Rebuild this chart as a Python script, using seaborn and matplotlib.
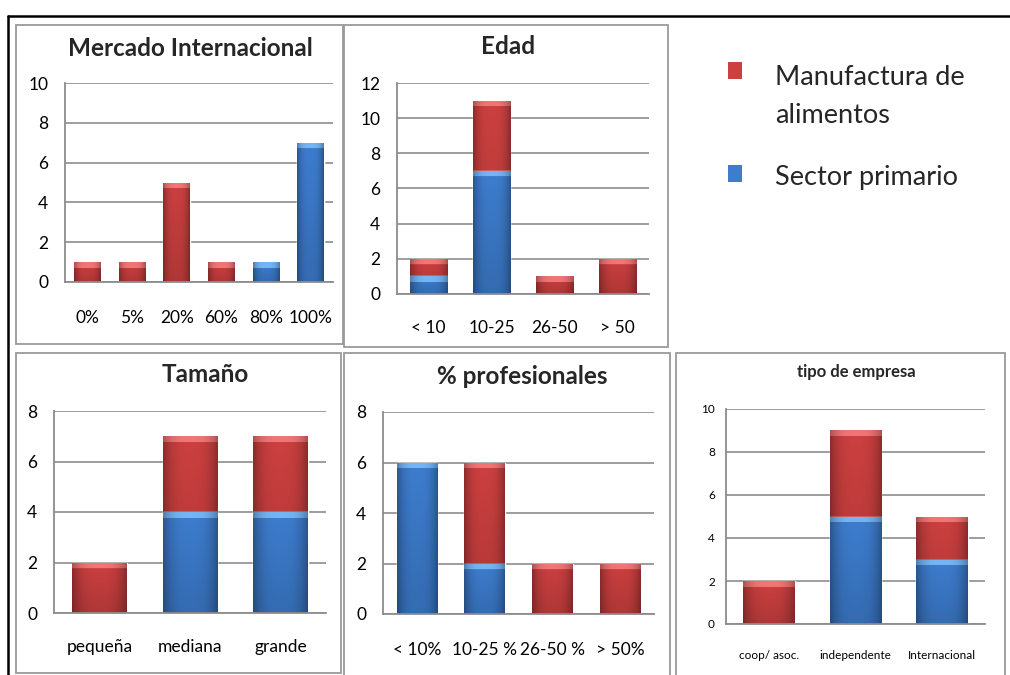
import numpy as np
import pandas as pd
import matplotlib
matplotlib.use("Agg")
import matplotlib.pyplot as plt
import seaborn as sns
from matplotlib.patches import Rectangle
from matplotlib.lines import Line2D
from matplotlib import font_manager

# ---- data -------------------------------------------------------------
mercado_cats = ["0%", "5%", "20%", "60%", "80%", "100%"]
mercado_primario = [0, 0, 0, 0, 1, 7]
mercado_manufactura = [1, 1, 5, 1, 0, 0]

edad_cats = ["< 10", "10-25", "26-50", "> 50"]
edad_primario = [1, 7, 0, 0]
edad_manufactura = [1, 4, 1, 2]

tamano_cats = ["pequeña", "mediana", "grande"]
tamano_primario = [0, 4, 4]
tamano_manufactura = [2, 3, 3]

prof_cats = ["< 10%", "10-25 %", "26-50 %", "> 50%"]
prof_primario = [6, 2, 0, 0]
prof_manufactura = [0, 4, 2, 2]

tipo_cats = ["coop/ asoc.", "independente", "Internacional"]
tipo_primario = [0, 5, 3]
tipo_manufactura = [2, 4, 2]

series_labels = ["Manufactura de\nalimentos", "Sector primario"]

# ---- style ------------------------------------------------------------
W, H = 1010, 675
sns.set_theme(style="white")
plt.rcParams["font.family"] = ["Lato", "DejaVu Sans"]


def has_font(name):
    try:
        font_manager.findfont(name, fallback_to_default=False)
        return True
    except Exception:
        return False


NARROW = ["Liberation Sans Narrow", "Lato"] if has_font("Liberation Sans Narrow") else ["Lato"]

RED = (0.80, 0.25, 0.25)
RED_TOP = (0.95, 0.46, 0.46)
BLUE = (0.24, 0.49, 0.81)
BLUE_TOP = (0.46, 0.71, 0.96)
GRID = "#8c8c8c"

fig = plt.figure(figsize=(W / 100, H / 100), dpi=100)
fig.patch.set_facecolor("white")


def frac_rect(x0, y0, x1, y1):
    return [x0 / W, 1 - y1 / H, (x1 - x0) / W, (y1 - y0) / H]


def frame(x0, y0, x1, y1, color="#9a9a9a", lw=1.3):
    fig.add_artist(Rectangle((x0 / W, 1 - y1 / H), (x1 - x0) / W, (y1 - y0) / H,
                             transform=fig.transFigure, fill=False,
                             edgecolor=color, linewidth=lw))


def shade(ax, patch, base, top, z):
    x0, y0 = patch.get_x(), patch.get_y()
    w, h = patch.get_width(), patch.get_height()
    if h <= 0:
        return
    p0 = ax.transData.transform((x0, y0))
    p1 = ax.transData.transform((x0 + w, y0 + h))
    hp = max(int(round(p1[1] - p0[1])), 2)
    wp = max(int(round(p1[0] - p0[0])), 2)
    u = np.linspace(-1, 1, wp)
    horiz = 1.0 - 0.30 * np.abs(u) ** 3
    vert = np.linspace(1.0, 0.86, hp)
    img = np.ones((hp, wp, 3)) * np.array(base)[None, None, :]
    img *= horiz[None, :, None] * vert[:, None, None]
    band = min(6, hp // 2)
    img[:band] = np.array(top)[None, None, :] * horiz[None, :, None]
    img = np.clip(img, 0, 1)
    im = ax.imshow(img, extent=(x0, x0 + w, y0, y0 + h), aspect="auto",
                   origin="upper", zorder=z, interpolation="bilinear")
    im.set_clip_path(patch)


def panel(rect_px, cats, prim, manu, ymax, title, title_xy, title_size,
          tick_size, ypad, xpad, family=None):
    ax = fig.add_axes(frac_rect(*rect_px))
    df = pd.DataFrame({"cat": cats,
                       "total": np.array(prim) + np.array(manu),
                       "prim": prim})
    sns.barplot(data=df, x="cat", y="total", color=RED, saturation=1,
                width=0.6, errorbar=None, ax=ax, zorder=2)
    sns.barplot(data=df, x="cat", y="prim", color=BLUE, saturation=1,
                width=0.6, errorbar=None, ax=ax, zorder=4)
    ax.set_xlim(-0.5, len(cats) - 0.5)
    ax.set_ylim(0, ymax)
    ax.set_yticks(np.arange(0, ymax + 1, 2))
    ax.set_xlabel("")
    ax.set_ylabel("")
    ax.yaxis.grid(True, color=GRID, linewidth=1.2)
    ax.set_axisbelow(True)
    for s in ["top", "right"]:
        ax.spines[s].set_visible(False)
    for s in ["left", "bottom"]:
        ax.spines[s].set_color(GRID)
        ax.spines[s].set_linewidth(1.3)
        ax.spines[s].set_zorder(6)
    ax.tick_params(axis="both", length=0, labelsize=tick_size, colors="black")
    ax.tick_params(axis="y", pad=ypad)
    ax.tick_params(axis="x", pad=xpad)
    if family:
        for lab in ax.get_xticklabels() + ax.get_yticklabels():
            lab.set_family(family)
    n = len(cats)
    for i, p in enumerate(ax.patches):
        if i < n:
            shade(ax, p, RED, RED_TOP, 3)
        else:
            shade(ax, p, BLUE, BLUE_TOP, 5)
    fig.text(title_xy[0] / W, 1 - title_xy[1] / H, title, ha="center",
             va="center", fontsize=title_size, fontweight="bold",
             family=family if family else ["Lato", "DejaVu Sans"])
    return ax


# panel frames and outer lines
frame(16, 25, 343, 344)
frame(344, 25, 668, 347)
frame(16, 353, 341, 673)
frame(344, 353, 670, 676)
frame(676, 353, 1005, 676)
fig.add_artist(Line2D([8 / W, 1], [1 - 16 / H, 1 - 16 / H],
                      transform=fig.transFigure, color="black", lw=1.8))
fig.add_artist(Line2D([8 / W, 8 / W], [1 - 16 / H, 0],
                      transform=fig.transFigure, color="black", lw=1.8))

panel((65, 83, 333, 282), mercado_cats, mercado_primario, mercado_manufactura,
      10, "Mercado Internacional", (190, 49), 17.5, 12.5, 12, 20)
panel((397, 83, 649, 294), edad_cats, edad_primario, edad_manufactura,
      12, "Edad", (508, 46), 17.5, 12.5, 12, 19)
panel((54, 411, 326, 613), tamano_cats, tamano_primario, tamano_manufactura,
      8, "Tamaño", (205, 375), 17.5, 12.5, 12, 19)
panel((383, 412, 654, 614), prof_cats, prof_primario, prof_manufactura,
      8, "% profesionales", (522, 377), 17.5, 12.5, 12, 20)
panel((726, 409, 985, 624), tipo_cats, tipo_primario, tipo_manufactura,
      10, "tipo de empresa", (856, 372), 12, 8.5, 8, 19, family=NARROW)

# legend
for (sq_y, col), lab, base_y in zip([(62, RED), (165, BLUE)], series_labels,
                                    [123, 185]):
    fig.add_artist(Rectangle((728 / W, 1 - (sq_y + 17) / H), 14 / W, 17 / H,
                             transform=fig.transFigure, facecolor=col,
                             edgecolor="none"))
    fig.text(775 / W, 1 - base_y / H, lab, ha="left", va="baseline",
             fontsize=19.5, linespacing=1.65)

fig.savefig("out.png", dpi=100, facecolor="white")
